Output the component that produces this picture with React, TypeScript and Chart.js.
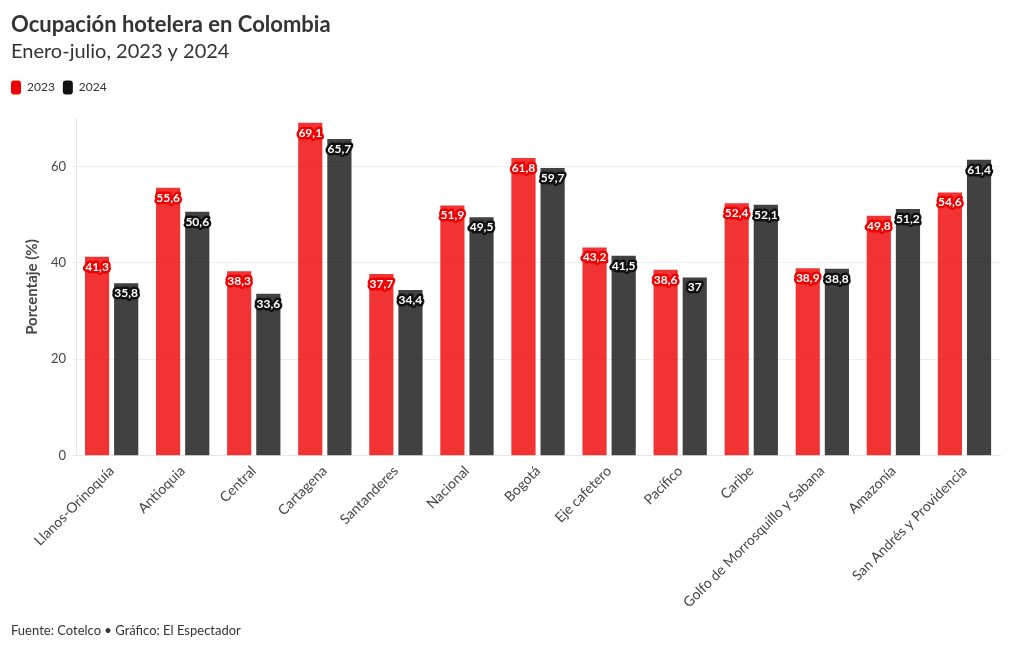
import React, { useEffect, useRef } from "react";
import { Chart, registerables } from "chart.js";

Chart.register(...registerables);

const categories = [
  "Llanos-Orinoquía",
  "Antioquia",
  "Central",
  "Cartagena",
  "Santanderes",
  "Nacional",
  "Bogotá",
  "Eje cafetero",
  "Pacífico",
  "Caribe",
  "Golfo de Morrosquillo y Sabana",
  "Amazonía",
  "San Andrés y Providencia",
];
const values2023 = [41.3, 55.6, 38.3, 69.1, 37.7, 51.9, 61.8, 43.2, 38.6, 52.4, 38.9, 49.8, 54.6];
const values2024 = [35.8, 50.6, 33.6, 65.7, 34.4, 49.5, 59.7, 41.5, 37, 52.1, 38.8, 51.2, 61.4];
const seriesNames = ["2023", "2024"];
const seriesColors = ["#ee0000", "#111111"];
const barColors = ["rgba(238,0,0,0.8)", "rgba(17,17,17,0.8)"];

const FONT = "Lato, 'Noto Sans', sans-serif";

const fmt = (v: number) => String(v).replace(".", ",");

const labelPlugin = {
  id: "barLabels",
  afterInit(chart: any) {
    const lg = chart.legend;
    if (lg) {
      const origFit = lg.fit.bind(lg);
      lg.fit = function () {
        origFit();
        this.height += 14;
      };
      const origDraw = lg.draw.bind(lg);
      lg.draw = function () {
        const ctx = chart.ctx;
        ctx.save();
        ctx.translate(-8, 0);
        origDraw();
        ctx.restore();
      };
    }
  },
  afterDatasetsDraw(chart: any) {
    const ctx = chart.ctx;
    ctx.save();
    ctx.font = `bold 12px ${FONT}`;
    ctx.textAlign = "center";
    ctx.textBaseline = "middle";
    ctx.lineJoin = "round";
    chart.data.datasets.forEach((ds: any, di: number) => {
      const meta = chart.getDatasetMeta(di);
      meta.data.forEach((bar: any, i: number) => {
        const v = ds.data[i];
        const t = fmt(v);
        const x = bar.x;
        const y = bar.y + 10;
        ctx.strokeStyle = seriesColors[di];
        ctx.lineWidth = 5;
        ctx.strokeText(t, x, y);
        ctx.fillStyle = "#ffffff";
        ctx.fillText(t, x, y);
      });
    });
    ctx.restore();
  },
};

export default function App() {
  const ref = useRef<HTMLCanvasElement | null>(null);
  useEffect(() => {
    if (!ref.current) return;
    const chart = new Chart(ref.current, {
      type: "bar",
      data: {
        labels: categories,
        datasets: [values2023, values2024].map((d, i) => ({
          label: seriesNames[i],
          data: d,
          backgroundColor: barColors[i],
          borderWidth: 0,
          categoryPercentage: 0.82,
          barPercentage: 0.83,
        })),
      },
      options: {
        animation: false,
        responsive: false,
        maintainAspectRatio: false,
        layout: { padding: { left: 11, right: 20, top: 12, bottom: 37 } },
        plugins: {
          title: {
            display: true,
            text: "Ocupación hotelera en Colombia",
            align: "start",
            color: "#333333",
            font: { family: FONT, size: 22, weight: "bold", lineHeight: 1.2 },
            padding: { top: 0, bottom: 0 },
          },
          subtitle: {
            display: true,
            text: "Enero-julio, 2023 y 2024",
            align: "start",
            color: "#333333",
            font: { family: FONT, size: 20, weight: "normal", lineHeight: 1.3 },
            padding: { top: 0, bottom: 8 },
          },
          legend: {
            display: true,
            position: "top",
            align: "start",
            labels: {
              boxWidth: 10,
              boxHeight: 14,
              useBorderRadius: true,
              borderRadius: 3,
              color: "#333333",
              font: { family: FONT, size: 12 },
              padding: 8,
              generateLabels: () =>
                seriesNames.map((n, i) => ({
                  text: n,
                  fillStyle: seriesColors[i],
                  strokeStyle: seriesColors[i],
                  lineWidth: 0,
                  datasetIndex: i,
                  fontColor: "#333333",
                  borderRadius: 3,
                })),
            },
          },
          tooltip: { enabled: false },
        },
        scales: {
          x: {
            grid: { display: false, drawTicks: true, tickLength: 5, tickColor: "#e6e6e6" },
            border: { color: "#e6e6e6" },
            ticks: {
              color: "#444444",
              font: { family: FONT, size: 14 },
              maxRotation: 45,
              minRotation: 45,
              autoSkip: false,
              padding: 2,
            },
          },
          y: {
            min: 0,
            max: 70,
            afterBuildTicks: (axis: any) => {
              axis.ticks = [0, 20, 40, 60].map((v) => ({ value: v }));
            },
            ticks: {
              color: "#444444",
              font: { family: FONT, size: 13 },
              padding: 6,
            },
            grid: { color: "#eeeeee", drawTicks: true, tickLength: 4, tickColor: "#eeeeee" },
            border: { color: "#e6e6e6" },
            title: {
              display: true,
              text: "Porcentaje (%)",
              color: "#444444",
              font: { family: FONT, size: 15, weight: "bold" },
              padding: { top: 12, bottom: 4 },
            },
          },
        },
      },
      plugins: [labelPlugin],
    });
    return () => chart.destroy();
  }, []);
  return (
    <div style={{ position: "fixed", left: 0, top: 0, width: 1020, height: 650, background: "#fff" }}>
      <canvas ref={ref} width={1020} height={650} style={{ display: "block" }} />
      <div
        style={{
          position: "absolute",
          left: 11,
          top: 622,
          fontFamily: FONT,
          fontSize: 13,
          color: "#333333",
          whiteSpace: "nowrap",
        }}
      >
        Fuente: Cotelco • Gráfico: El Espectador
      </div>
    </div>
  );
}
